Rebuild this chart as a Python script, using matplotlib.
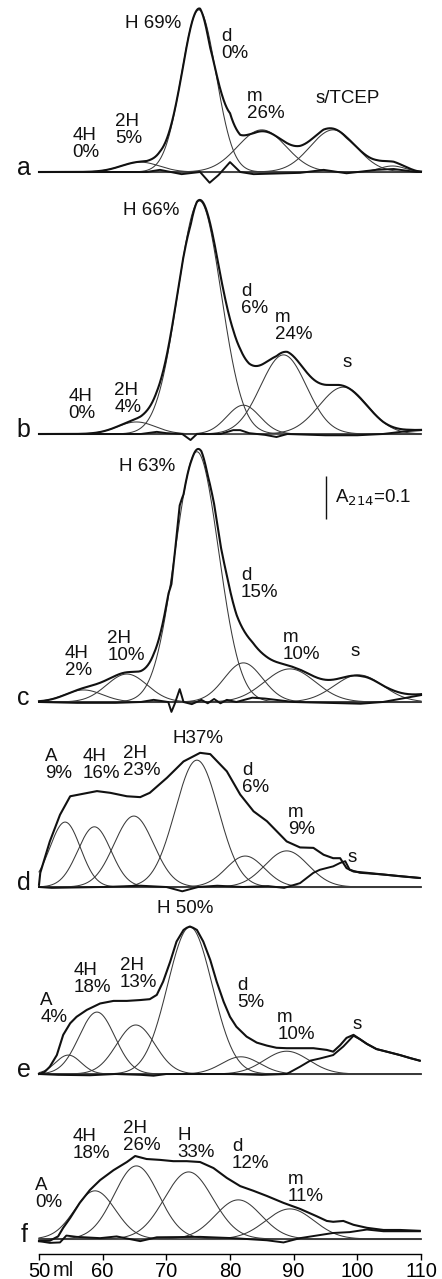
import numpy as np
import matplotlib.pyplot as plt

plt.rcParams['font.family'] = ['Liberation Sans', 'DejaVu Sans']

# ---- data (elution volume in ml, absorbance A214 in mAU) ----
x_ticks = [50, 60, 70, 80, 90, 100, 110]

# gaussian components: centre (ml), height (mAU), sigma (ml)
a_cen = [65.9, 75.1, 85.0, 96.2, 105.5]
a_hgt = [23, 377, 98, 98, 14]
a_sig = [3.0, 2.7, 3.8, 3.6, 2.0]
a_res_x = [50, 66.9, 69.0, 72.4, 75.3, 76.8, 78.2, 80.0, 81.6, 83.7, 91.0, 94.7, 98.3, 103.0, 105.7, 109.3, 110]
a_res_y = [0, 0, 5, -5, 0, -25, -7, 23, 0, -5, -2, 5, -3, 5, 7, 0, 0]

b_cen = [65.3, 75.2, 82.1, 88.4, 97.8]
b_hgt = [28, 542, 67, 184, 109]
b_sig = [3.0, 3.4, 2.6, 3.6, 3.8]
b_res_x = [50, 66, 68.5, 70, 72.5, 73.8, 74.8, 78.5, 80.5, 81.6, 83, 85.5, 87.3, 89, 95, 100, 104, 108, 110]
b_res_y = [0, 0, 5, 2, 0, -14, 0, 0, 9, 9, 2, -2, -7, 0, -3, -3, 0, 7, 9]

c_cen = [57.0, 63.8, 74.8, 82.1, 89.4, 100.2]
c_hgt = [28, 65, 582, 91, 77, 63]
c_sig = [3.0, 3.2, 3.4, 3.0, 4.0, 3.8]
c_res_x = [50, 56, 62, 66, 68, 70.3, 70.8, 71.3, 72.1, 72.7, 74, 75.5, 76.5, 77.5, 78.5, 79.5, 81, 83.5,
           85.5, 90, 100.5, 104, 110]
c_res_y = [0, -2, -2, 0, 5, 0, -23, -5, 30, 0, -5, 5, -3, 7, -3, 5, 0, 10, 8, 0, -4, 0, 16]

d_cen = [54.1, 58.7, 64.9, 74.8, 82.4, 88.9]
d_hgt = [151, 140, 165, 295, 72, 84]
d_sig = [2.4, 2.6, 3.1, 3.4, 3.0, 3.4]
d_trace_x = [50.0, 50.2, 51.7, 53.3, 54.9, 57.0, 59.1, 61.2, 63.8, 65.9, 67.4, 70.1, 72.7, 75.3, 76.9, 79.5,
             81.6, 83.7, 85.8, 88.9, 91.0, 93.1, 94.7, 96.2, 97.3, 98.3, 99.4, 101.5, 104.1, 106.7, 109.8]
d_trace_y = [5, 33, 106, 168, 211, 217, 223, 219, 211, 209, 219, 254, 292, 312, 309, 269,
             215, 176, 153, 106, 92, 91, 75, 67, 67, 44, 36, 33, 29, 25, 21]
d_res_x = [50, 52, 60, 66, 70, 72.5, 75, 78, 82, 86, 88.5, 91.0, 93.1, 94.1, 96.2, 97.3, 98.1, 98.8,
           100.4, 104.1, 109.8]
d_res_y = [0, -2, 0, 3, 0, -10, 0, 3, 0, 2, -2, 9, 33, 40, 48, 56, 60, 40, 33, 29, 21]

e_cen = [54.6, 59.1, 65.2, 73.7, 81.7, 88.9]
e_hgt = [44, 144, 114, 342, 40, 53]
e_sig = [2.0, 2.8, 3.0, 3.5, 3.0, 3.5]
e_trace_x = [50.0, 50.9, 51.7, 52.8, 53.8, 54.9, 55.9, 57.5, 59.6, 61.7, 63.8, 65.9, 67.4, 68.5, 69.5,
             70.6, 71.6, 72.7, 73.2, 73.7, 74.2, 74.8, 75.8, 76.9, 77.9, 79.0, 80.0, 81.0, 82.6, 84.2,
             85.8, 87.3, 88.9, 91.0, 93.1, 95.2, 96.2, 97.3, 98.3, 99.4, 100.4, 101.5, 103.0, 104.6,
             106.7, 108.3, 109.8]
e_trace_y = [0, 5, 17, 44, 91, 118, 133, 149, 164, 170, 170, 172, 174, 184, 215,
             261, 308, 335, 340, 343, 340, 335, 308, 265, 215, 168, 133, 110, 87, 73,
             66, 61, 60, 60, 60, 56, 52, 67, 84, 91, 81, 70, 58, 52,
             44, 37, 31]
e_res_x = [50, 53, 58, 62, 66, 68, 70, 80, 85, 88.9, 91.0, 92.6, 94.1, 96.2, 97.8, 99.4, 100.4, 101.5,
           103.0, 104.6, 106.7, 108.3, 109.8]
e_res_y = [0, -2, -3, 0, -2, -4, 0, 0, -2, 0, 17, 31, 36, 44, 64, 89, 81, 70, 58, 52, 44, 37, 31]

f_cen = [58.8, 65.3, 73.5, 81.3, 89.4]
f_hgt = [112, 170, 156, 91, 70]
f_sig = [3.2, 3.5, 3.8, 3.6, 3.8]
f_trace_x = [50.0, 51.7, 53.0, 53.8, 54.9, 56.4, 58.0, 59.6, 61.7, 63.8, 65.1, 66.9, 69.0, 71.1, 73.2,
             75.3, 77.4, 79.5, 81.6, 83.7, 85.8, 88.4, 91.0, 93.6, 95.2, 96.2, 97.8, 99.4, 101.5,
             104.1, 106.7, 109.8]
f_trace_y = [-5, -4, 6, 26, 49, 84, 114, 137, 160, 179, 193, 186, 184, 181, 181,
             179, 165, 142, 123, 112, 100, 84, 70, 53, 42, 40, 42, 33, 26,
             21, 21, 19]
f_res_x = [50, 51.7, 53.3, 54.3, 55.9, 59.6, 62.2, 65.9, 68.5, 75.3, 80.5, 85.8, 88.4, 91.0, 93.6,
           96.2, 98.8, 101.5, 104.1, 109.8]
f_res_y = [-5, -9, -8, 8, 5, 2, 6, -5, 4, 5, 2, -3, -8, 2, 8, 14, 16, 22, 18, 18]

# peak labels: text, left (ml), top (mAU)
a_lab = [("4H\n0%", 55.3, 105), ("2H\n5%", 61.9, 137), ("H 69%", 63.5, 365), ("d\n0%", 78.7, 335),
         ("m\n26%", 82.7, 195), ("s/TCEP", 93.5, 191)]
b_lab = [("4H\n0%", 54.6, 107), ("2H\n4%", 61.8, 121), ("H 66%", 63.2, 540), ("d\n6%", 81.7, 351),
         ("m\n24%", 87.1, 291), ("s", 97.6, 186)]
c_lab = [("4H\n2%", 54.1, 133), ("2H\n10%", 60.7, 167), ("H 63%", 62.6, 567), ("d\n15%", 81.7, 314),
         ("m\n10%", 88.3, 170), ("s", 99.0, 137)]
d_lab = [("A\n9%", 50.9, 323), ("4H\n16%", 56.8, 323), ("2H\n23%", 63.2, 330), ("H37%", 71.0, 365),
         ("d\n6%", 81.9, 291), ("m\n9%", 89.1, 193), ("s", 98.4, 88)]
e_lab = [("A\n4%", 50.2, 191), ("4H\n18%", 55.5, 260), ("2H\n13%", 62.7, 272), ("H 50%", 68.5, 405),
         ("d\n5%", 81.1, 226), ("m\n10%", 87.4, 151), ("s", 99.3, 135)]
f_lab = [("A\n0%", 49.4, 144), ("4H\n18%", 55.3, 258), ("2H\n26%", 63.2, 277), ("H\n33%", 71.8, 260),
         ("d\n12%", 80.3, 235), ("m\n11%", 89.0, 158)]

panels = [
    ('a', a_cen, a_hgt, a_sig, a_res_x, a_res_y, None, None, a_lab),
    ('b', b_cen, b_hgt, b_sig, b_res_x, b_res_y, None, None, b_lab),
    ('c', c_cen, c_hgt, c_sig, c_res_x, c_res_y, None, None, c_lab),
    ('d', d_cen, d_hgt, d_sig, d_res_x, d_res_y, d_trace_x, d_trace_y, d_lab),
    ('e', e_cen, e_hgt, e_sig, e_res_x, e_res_y, e_trace_x, e_trace_y, e_lab),
    ('f', f_cen, f_hgt, f_sig, f_res_x, f_res_y, f_trace_x, f_trace_y, f_lab),
]

# ---- layout ----
W, H = 442, 1279
base_px = [172, 434, 702, 887, 1074, 1239]   # baseline row of each panel
px_per_mau = 0.43                             # A214 = 0.1 -> 43 px
px_per_ml = 6.367
xlim = (50 - 39 / px_per_ml, 50 + (W - 39) / px_per_ml)
below, above = 45, 290

fig = plt.figure(figsize=(W / 100, H / 100), dpi=100)
x = np.linspace(50, 110, 1201)
ink = '#111111'

for (name, cen, hgt, sig, rx, ry, tx, ty, labs), bp in zip(panels, base_px):
    ax = fig.add_axes([0, 1 - (bp + below) / H, 1, (below + above) / H])
    ax.set_xlim(*xlim)
    ax.set_ylim(-below / px_per_mau, above / px_per_mau)
    ax.patch.set_visible(False)

    comps = [h * np.exp(-(x - c) ** 2 / (2 * s ** 2)) for c, h, s in zip(cen, hgt, sig)]
    ax.hlines(0, 50, 110, color='#8a8a8a', lw=0.8)
    for cp in comps:
        ax.plot(x, cp, color='#3a3a3a', lw=0.75)
    if tx is None:
        trace = np.sum(comps, axis=0) + np.interp(x, rx, ry)
        ax.plot(x, trace, color=ink, lw=1.5)
    else:
        ax.plot(tx, ty, color=ink, lw=1.5)
    ax.plot(rx, ry, color=ink, lw=1.4)

    for txt, lx, ly in labs:
        ax.text(lx, ly, txt, ha='left', va='top', fontsize=13.5, linespacing=0.98, color=ink)
    ax.text(47.6, -7, name, ha='center', va='baseline', fontsize=18, color=ink)

    for sp in ['top', 'left', 'right']:
        ax.spines[sp].set_visible(False)
    ax.set_yticks([])
    if name == 'f':
        ax.spines['bottom'].set_position(('data', -15 / px_per_mau))
        ax.spines['bottom'].set_bounds(50, 110)
        ax.spines['bottom'].set_linewidth(1.0)
        ax.set_xticks(x_ticks)
        ax.tick_params(axis='x', direction='out', length=4, width=1.0, pad=1.5, labelsize=14.5)
        ax.text(52.2, -22 / px_per_mau, 'ml', ha='left', va='top', fontsize=14.5, color=ink)
    else:
        ax.spines['bottom'].set_visible(False)
        ax.set_xticks([])
    if name == 'c':
        ax.vlines(95.1, 425, 525, color=ink, lw=1.0)
        ax.text(96.5, 475, 'A$_{214}$=0.1', ha='left', va='center', fontsize=13.5, color=ink)

fig.savefig('out.png', dpi=100)
